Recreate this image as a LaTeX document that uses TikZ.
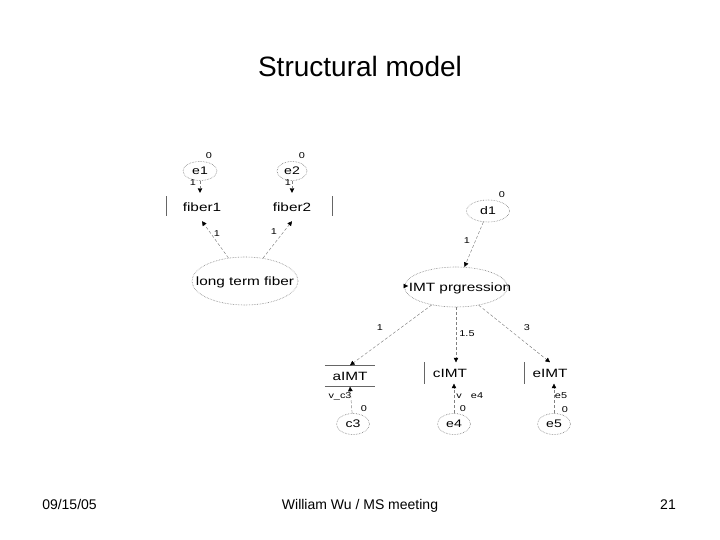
\documentclass[tikz,border=0pt]{standalone}
\usepackage{fontspec}
\setmainfont{Liberation Sans}
\newfontfamily\dfont[FakeStretch=1.28]{Liberation Sans}
\usetikzlibrary{shapes.geometric,arrows.meta}
\begin{document}
\begin{tikzpicture}[x=1pt,y=-1pt,
  lat/.style={ellipse, draw=black!50, densely dotted, line width=0.6pt, inner sep=0pt, font=\dfont\fontsize{11}{12}\selectfont},
  obs/.style={rectangle, inner sep=0pt, minimum width=50pt, minimum height=21pt, font=\dfont\fontsize{12}{13}\selectfont},
  sm/.style={font=\dfont\fontsize{8.5}{9}\selectfont, inner sep=0.5pt},
  arr/.style={draw=black!50, densely dashed, line width=0.45pt, -{Triangle[length=4.5pt,width=4.5pt,color=black,fill=black]}},
  bar/.style={draw=black!60, line width=0.7pt},
  foot/.style={font=\fontsize{14}{16}\selectfont, anchor=base},
]
\useasboundingbox (0,0) rectangle (720,540);
\fill[white] (0,0) rectangle (720,540);

% title
\node[font=\fontsize{28}{32}\selectfont, anchor=base] (title) at (360,77) {Structural model};

% error terms of fibers
\node[lat, minimum width=34pt, minimum height=19pt] (e1) at (200,171) {e1};
\node[lat, minimum width=30pt, minimum height=19pt] (e2) at (292,171) {e2};
\node[sm] (e1v) at (209,156) {0};
\node[sm] (e2v) at (302,156) {0};
\node[sm] (e1w) at (193,183) {1};
\node[sm] (e2w) at (288,183) {1};

% fiber boxes
\node[obs, minimum width=70pt, minimum height=28pt] (f1) at (202,207) {fiber1};
\node[obs, minimum width=80pt, minimum height=28pt] (f2) at (292,207) {fiber2};
\draw[bar] ([yshift=-9pt]f1.west) -- ([yshift=11pt]f1.west);
\draw[bar] ([yshift=-9pt]f2.east) -- ([yshift=11pt]f2.east);

\draw[arr] (e1.south) -- (e1.south |- f1.north);
\draw[arr] (e2.south) -- (e2.south |- f2.north);

% long term fiber
\node[lat, minimum width=106pt, minimum height=48pt] (ltf) at (245,281) {};
\node[obs, minimum width=0pt] (ltft) at (245,282) {long term fiber};
\draw[arr] (ltf) -- (f1.south);
\draw[arr] (ltf) -- (f2.south);
\node[sm] (l1) at (217,234) {1};
\node[sm] (l2) at (274,232) {1};

% d1
\node[lat, minimum width=43pt, minimum height=22pt] (d1) at (488,211) {d1};
\node[sm] (d1v) at (502,195) {0};

% IMT progression
\node[lat, minimum width=103pt, minimum height=40pt] (imt) at (456,287) {};
\node[obs, minimum width=0pt] (imtt) at (460,288) {IMT prgression};
\coordinate (imtin) at (398,286);
\draw[arr, draw=white] (imtin) -- ([xshift=-0.5pt]imtt.west |- imtin);
\draw[arr] (d1) -- (imt);
\node[sm] (d1w) at (467,241) {1};

% indicators
\node[obs] (a) at (350,376) {aIMT};
\node[obs] (c) at (450,373) {cIMT};
\node[obs] (e) at (550,373) {eIMT};
\draw[bar] (a.north west) -- (a.north east);
\draw[bar] (a.south west) -- (a.south east);
\draw[bar] (c.north west) -- (c.south west);
\draw[bar] (e.north west) -- (e.south west);

\draw[arr] (imt) -- (a.north);
\draw[arr] (imt.south) -- (imt.south |- c.north);
\draw[arr] (imt) -- (e.north);
\node[sm] (w1) at (380,328) {1};
\node[sm] (w2) at (467,334) {1.5};
\node[sm] (w3) at (527,328) {3};

% residuals
\node[lat, minimum width=33pt, minimum height=21pt] (e3) at (353,424) {c3};
\node[lat, minimum width=33pt, minimum height=21pt] (e4) at (454,424) {e4};
\node[lat, minimum width=33pt, minimum height=21pt] (e5) at (554,424) {e5};
\node[sm] (e3v) at (364,409) {0};
\node[sm] (e4v) at (463,409) {0};
\node[sm] (e5v) at (565,410) {0};

\draw[arr] (e3) -- (a.south);
\draw[arr] (e4.north) -- (e4.north |- c.south);
\draw[arr] (e5.north) -- (e5.north |- e.south);

\node[sm, fill=white, inner sep=0pt] (v3) at (340,396) {v\_c3};
\node[sm] (v4) at (459,396) {v};
\node[sm] (v4b) at (477,396) {e4};
\node[sm] (v5) at (561,396) {e5};

% footer
\node[foot] (date) at (69.5,509) {09/15/05};
\node[foot] (auth) at (360,509) {William Wu / MS meeting};
\node[foot] (page) at (668,509) {21};
\end{tikzpicture}
\end{document}
